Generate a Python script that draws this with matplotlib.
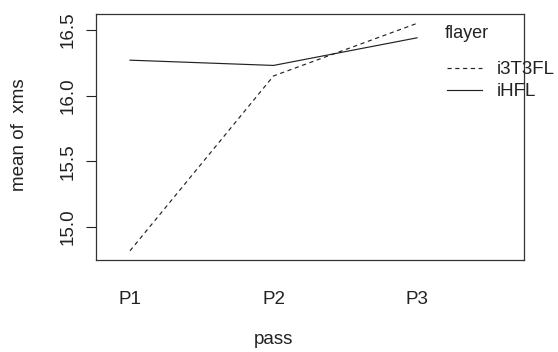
import matplotlib
matplotlib.use("Agg")
import matplotlib.pyplot as plt
from matplotlib.lines import Line2D

plt.rcParams['font.family'] = ['Liberation Sans', 'DejaVu Sans']
plt.rcParams['lines.scale_dashes'] = False

passes = ["P1", "P2", "P3"]
i3T3FL = [14.82, 16.15, 16.55]
iHFL = [16.27, 16.23, 16.44]
series_names = ["i3T3FL", "iHFL"]
yticks = [15.0, 15.5, 16.0, 16.5]

FS = 13.5
TC = '#222222'

fig = plt.figure(figsize=(5.58, 3.52), dpi=100)
ax = fig.add_axes([96/558, 1-260/352, (524-96)/558, (260-14)/352])

x = list(range(1, len(passes)+1))
ax.plot(x, i3T3FL, color=TC, lw=0.85, linestyle=(0, (3.0, 2.6)))
ax.plot(x, iHFL, color=TC, lw=0.85, linestyle='-')

ax.set_xlim(1 - 34/143.5, 3 + 107/143.5)
ax.set_ylim(15.0 - 33/132, 16.5 + 16/132)

ax.set_xticks(x)
ax.set_xticklabels(passes, fontsize=FS, color=TC)
ax.tick_params(axis='x', length=0, pad=22)
ax.set_yticks(yticks)
ax.set_yticklabels([f"{v:.1f}" for v in yticks], rotation=90, va='center',
                   fontsize=FS, color=TC)
ax.tick_params(axis='y', length=7.2, width=0.8, pad=7, color=TC)
for s in ax.spines.values():
    s.set_linewidth(0.9)
    s.set_color('#333333')

fig.text(273/558, 1-340/352, "pass", ha='center', va='center', fontsize=FS, color=TC)
fig.text(20/558, 1-135/352, "mean of  xms", ha='center', va='center', rotation=90,
         fontsize=FS, color=TC)

# legend drawn manually (overlaps right border, as in reference)
fig.text(445/558, 1-33/352, "flayer", ha='left', va='center', fontsize=13, color=TC)
fig.add_artist(Line2D([447/558, 482/558], [1-68/352, 1-68/352], color=TC, lw=0.85,
                      linestyle=(0, (3.0, 2.6))))
fig.add_artist(Line2D([447/558, 482/558], [1-90/352, 1-90/352], color=TC, lw=0.85))
fig.text(497/558, 1-69/352, series_names[0], ha='left', va='center', fontsize=FS, color=TC)
fig.text(497/558, 1-91/352, series_names[1], ha='left', va='center', fontsize=FS, color=TC)

fig.savefig("out.png", dpi=100)
